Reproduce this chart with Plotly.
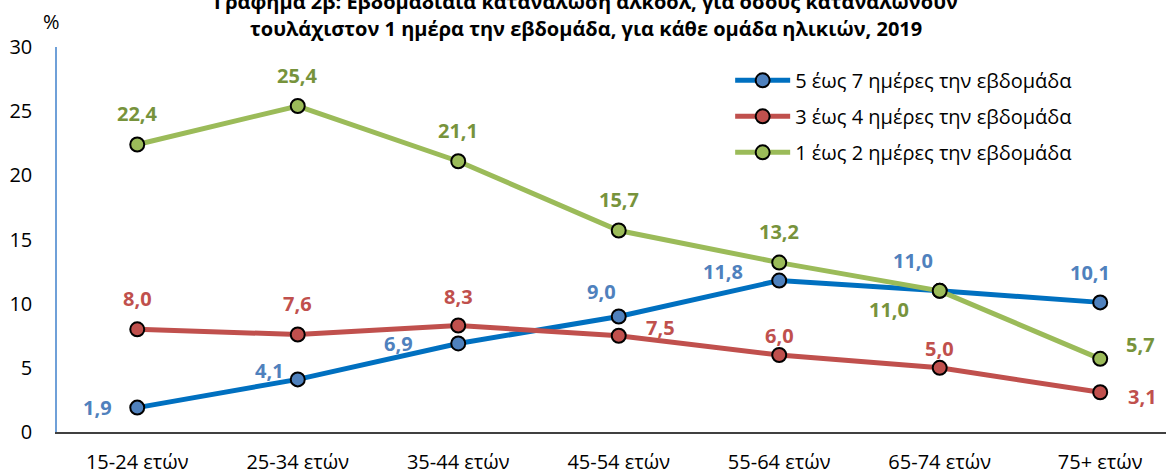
import plotly.graph_objects as go

categories = ["15-24 ετών", "25-34 ετών", "35-44 ετών", "45-54 ετών", "55-64 ετών", "65-74 ετών", "75+ ετών"]
series_names = ["5 έως 7 ημέρες την εβδομάδα", "3 έως 4 ημέρες την εβδομάδα", "1 έως 2 ημέρες την εβδομάδα"]
days_5_7 = [1.9, 4.1, 6.9, 9.0, 11.8, 11.0, 10.1]
days_3_4 = [8.0, 7.6, 8.3, 7.5, 6.0, 5.0, 3.1]
days_1_2 = [22.4, 25.4, 21.1, 15.7, 13.2, 11.0, 5.7]
y_ticks = [0, 5, 10, 15, 20, 25, 30]

FONT = "'Open Sans', 'Noto Sans', sans-serif"

styles = [
    dict(line="#0070C0", marker="#4F81BD", label="#4F81BD",
         offsets=[(-40, 0), (-28, 9), (-60, 0), (-17, 25), (-56, 9), (-27, 30), (-10, 30)]),
    dict(line="#C0504D", marker="#C0504D", label="#C0504D",
         offsets=[(0, 31), (0, 31), (0, 29), (42, 8), (0, 20), (0, 19), (42, -4)]),
    dict(line="#9BBB59", marker="#9BBB59", label="#77933C",
         offsets=[(0, 31), (0, 31), (0, 31), (0, 31), (0, 31), (-51, -19), (40, 14)]),
]

fig = go.Figure()
annotations = []
for i, (name, vals, st) in enumerate(zip(series_names, [days_5_7, days_3_4, days_1_2], styles)):
    fig.add_trace(go.Scatter(
        x=categories, y=vals, name=name, mode="lines+markers", legendgroup=f"g{i}",
        line=dict(color=st["line"], width=5),
        marker=dict(size=14, color=st["marker"], line=dict(color="black", width=2)),
        hoverinfo="skip",
    ))
    for c, v, (dx, dy) in zip(categories, vals, st["offsets"]):
        annotations.append(dict(
            x=c, y=v, xref="x", yref="y", text=f"<b>{v:.1f}</b>".replace(".", ","),
            showarrow=False, xshift=dx, yshift=dy,
            font=dict(family=FONT, size=20, color=st["label"]),
        ))

annotations.append(dict(
    x=0.477, y=1.119, xref="paper", yref="paper", xanchor="center", yanchor="middle",
    text="<b>Γράφημα 2β: Εβδομαδιαία κατανάλωση αλκοόλ, για όσους καταναλώνουν</b>",
    showarrow=False, font=dict(family=FONT, size=20, color="black"),
))
annotations.append(dict(
    x=0.477, y=1.047, xref="paper", yref="paper", xanchor="center", yanchor="middle",
    text="<b>τουλάχιστον 1 ημέρα την εβδομάδα, για κάθε ομάδα ηλικιών, 2019</b>",
    showarrow=False, font=dict(family=FONT, size=20, color="black"),
))
annotations.append(dict(
    x=-0.0054, y=1.065, xref="paper", yref="paper", xanchor="center", yanchor="middle",
    text="%", showarrow=False, font=dict(family=FONT, size=20, color="black"),
))

fig.update_layout(
    width=1166, height=472,
    margin=dict(l=57, r=0, t=47, b=40, autoexpand=False),
    paper_bgcolor="white", plot_bgcolor="white",
    font=dict(family=FONT, size=20, color="black"),
    showlegend=True,
    legend=dict(x=0.607, y=0.964, xanchor="left", yanchor="top",
                bgcolor="rgba(0,0,0,0)", font=dict(family=FONT, size=20),
                tracegroupgap=7, itemwidth=55),
    annotations=annotations,
    xaxis=dict(type="category", range=[-0.5, 6.41], showgrid=False, zeroline=False,
               automargin=False,
               showline=True, linecolor="#404040", linewidth=1.5,
               ticks="", ticklabelstandoff=11, tickfont=dict(family=FONT, size=20)),
    yaxis=dict(range=[0, 30], tickvals=y_ticks, showgrid=False, zeroline=False,
               automargin=False,
               showline=True, linecolor="#6FA0D8", linewidth=1.5,
               ticks="", ticklabelstandoff=19, tickfont=dict(family=FONT, size=20)),
)

fig.write_html(
    "out.html",
    config={"displayModeBar": False},
    post_script="document.body.style.margin='0';document.body.style.padding='0';",
)
